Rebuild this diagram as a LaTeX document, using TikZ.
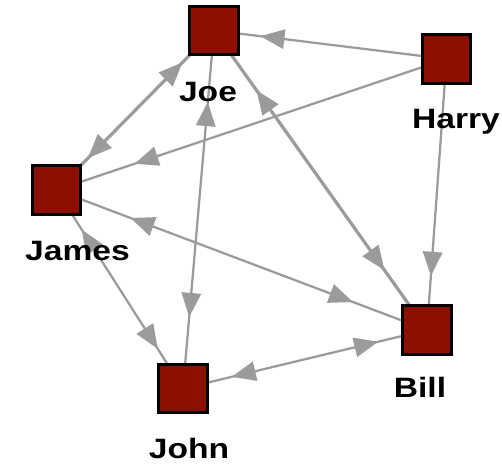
\documentclass[tikz,border=0pt]{standalone}
\usepackage{fontspec}
\newfontfamily\namefont{Liberation Sans}[FakeStretch=1.2]
\usepackage{tikz}
\usetikzlibrary{arrows.meta,decorations.markings,backgrounds}

\definecolor{boxred}{RGB}{140,16,0}
\definecolor{edgegray}{RGB}{155,155,155}

\begin{document}
\begin{tikzpicture}[x=0.75pt, y=-0.75pt,
    actor/.style={draw=black, line width=2.25pt, fill=boxred, minimum size=36.5pt, inner sep=0pt},
    actorlabel/.style={anchor=base, inner sep=0pt, font=\namefont\bfseries\fontsize{21}{21}\selectfont},
    tie/.style={draw=edgegray, line width=1.7pt},
    heavytie/.style={draw=edgegray, line width=2.4pt},
    tip/.style={edgegray, line width=0pt},
    oneway/.style={postaction={decorate}, decoration={markings,
        mark=at position 0.8 with {\arrow[tip]{Triangle[length=18pt, width=15pt]}}}},
    mutual/.style={postaction={decorate}, decoration={markings,
        mark=at position 0.2 with {\arrowreversed[tip]{Triangle[length=18pt, width=15pt]}},
        mark=at position 0.8 with {\arrow[tip]{Triangle[length=18pt, width=15pt]}}}}]
    \useasboundingbox (0,0) rectangle (502,464);

    % actors
    \node[actor] (joe) at (214,30.5) {};
    \node[actor] (harry) at (446.5,59) {};
    \node[actor] (james) at (56.5,190) {};
    \node[actor] (bill) at (427,330) {};
    \node[actor] (john) at (183,388.5) {};

    % labels
    \node[actorlabel] (joe-label) at (208,101) {Joe};
    \node[actorlabel] (harry-label) at (456,128) {Harry};
    \node[actorlabel] (james-label) at (77.5,260) {James};
    \node[actorlabel] (bill-label) at (420,397) {Bill};
    \node[actorlabel] (john-label) at (189,458) {John};

    \begin{scope}[on background layer]
    % one way ties from harry
    \path[tie, oneway] (harry.center) -- (joe.center);
    \path[tie, oneway] (harry.center) -- (james.center);
    \path[tie, oneway] (harry.center) -- (bill.center);

    % mutual ties
    \path[heavytie, mutual] (joe.center) -- (james.center);
    \path[tie, mutual] (joe.center) -- (john.center);
    \path[heavytie, mutual] (joe.center) -- (bill.center);
    \path[tie, mutual] (james.center) -- (bill.center);
    \path[tie, mutual] (james.center) -- (john.center);
    \path[tie, mutual] (john.center) -- (bill.center);
    \end{scope}
\end{tikzpicture}
\end{document}
